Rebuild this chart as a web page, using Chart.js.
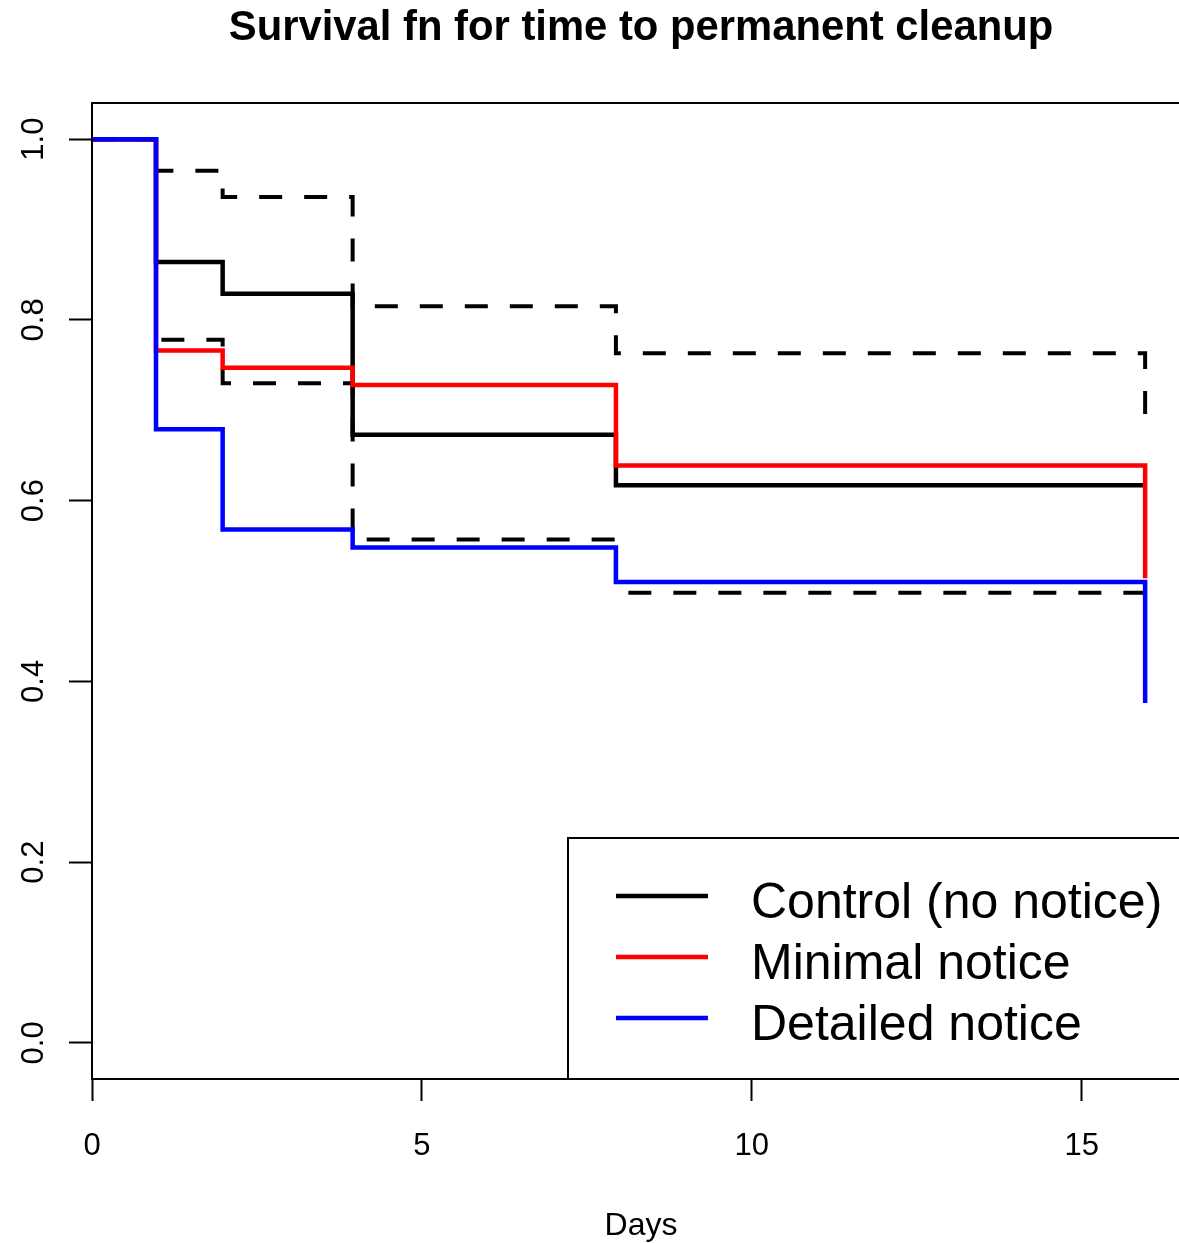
<!DOCTYPE html>
<html>
<head>
<meta charset="utf-8">
<script src="https://cdn.jsdelivr.net/npm/chart.js@4.4.0/dist/chart.umd.min.js"></script>
<style>
html, body { margin: 0; padding: 0; overflow: hidden; background: #fff; }
#wrap { width: 1192px; height: 1243px; }
</style>
</head>
<body>
<div id="wrap"><canvas id="myChart"></canvas></div>
<script>
// Kaplan-Meier estimates
const days = [0, 0.97, 1.98, 3.95, 7.94, 15.96];
const control = [1.0, 0.864, 0.829, 0.673, 0.617, 0.617];
const minimal = [1.0, 0.766, 0.747, 0.728, 0.639, 0.514];
const detailed = [1.0, 0.679, 0.568, 0.548, 0.510, 0.376];
// confidence band for the control group
const controlUpper = [1.0, 0.965, 0.936, 0.815, 0.763, 0.695];
const controlLower = [1.0, 0.778, 0.730, 0.557, 0.498, 0.498];

const groupNames = ['Control (no notice)', 'Minimal notice', 'Detailed notice'];
const groupColors = ['#000000', '#ff0000', '#0000ff'];

const xTicks = [0, 5, 10, 15];
const yTicks = [0.0, 0.2, 0.4, 0.6, 0.8, 1.0];

const titleText = 'Survival fn for time to permanent cleanup';
const xTitle = 'Days';

const FONT = '"Liberation Sans", Arial, sans-serif';

function pts(ys) {
    return days.map((d, i) => ({x: d, y: ys[i]}));
}

const rPlot = {
    id: 'rPlot',
    afterDraw(chart) {
        const c = chart.ctx;
        const a = chart.chartArea;
        const xs = chart.scales.x;
        const ys = chart.scales.y;
        c.save();

        // plot box
        c.strokeStyle = '#000';
        c.lineWidth = 2;
        c.strokeRect(a.left, a.top, a.right - a.left, a.bottom - a.top);

        // tick labels
        c.fillStyle = '#000';
        c.font = '31px ' + FONT;
        c.textAlign = 'center';
        c.textBaseline = 'alphabetic';
        xs.ticks.forEach(t => {
            c.fillText(String(t.value), xs.getPixelForValue(t.value), a.bottom + 76);
        });
        ys.ticks.forEach(t => {
            c.save();
            c.translate(a.left - 49, ys.getPixelForValue(t.value));
            c.rotate(-Math.PI / 2);
            c.fillText(t.value.toFixed(1), 0, 0);
            c.restore();
        });

        // axis title + main title
        const cx = (a.left + a.right) / 2;
        c.font = '32px ' + FONT;
        c.fillText(xTitle, cx, 1235);
        c.font = 'bold 41.8px ' + FONT;
        c.fillText(titleText, cx, 40);

        // legend, bottom right
        const lx = 568, ly = 838;
        c.lineWidth = 2;
        c.strokeRect(lx, ly, a.right - lx, a.bottom - ly);
        c.font = '50px ' + FONT;
        c.textAlign = 'left';
        groupNames.forEach((name, i) => {
            const y = 896 + i * 61;
            c.strokeStyle = groupColors[i];
            c.lineWidth = 4.5;
            c.beginPath();
            c.moveTo(616, y);
            c.lineTo(708, y);
            c.stroke();
            c.fillText(name, 751, y + 22);
        });
        c.restore();
    }
};

const ctx = document.getElementById('myChart').getContext('2d');

const myChart = new Chart(ctx, {
    type: 'line',
    data: {
        datasets: [
            {label: groupNames[2], data: pts(detailed), borderColor: groupColors[2], borderWidth: 4.5, stepped: true, order: 1},
            {label: groupNames[1], data: pts(minimal), borderColor: groupColors[1], borderWidth: 4.5, stepped: true, order: 2},
            {label: groupNames[0], data: pts(control), borderColor: groupColors[0], borderWidth: 4.5, stepped: true, order: 3},
            {label: 'upper', data: pts(controlUpper), borderColor: '#000', borderWidth: 4, borderDash: [23, 22], stepped: true, order: 4},
            {label: 'lower', data: pts(controlLower), borderColor: '#000', borderWidth: 4, borderDash: [23, 22], stepped: true, order: 4}
        ]
    },
    options: {
        responsive: true,
        maintainAspectRatio: false,
        animation: false,
        events: [],
        elements: {point: {radius: 0}, line: {tension: 0, fill: false}},
        layout: {padding: {top: 103, right: 2, left: 0, bottom: 0}},
        plugins: {
            legend: {display: false},
            title: {display: false},
            tooltip: {enabled: false}
        },
        scales: {
            x: {
                type: 'linear',
                min: 0,
                max: 16.64,
                afterBuildTicks: s => { s.ticks = xTicks.map(v => ({value: v})); },
                afterFit: s => { s.height = 164; },
                ticks: {display: false},
                border: {display: false},
                grid: {drawOnChartArea: false, drawTicks: true, tickLength: 22, tickWidth: 2, tickColor: '#000'}
            },
            y: {
                type: 'linear',
                min: -0.04,
                max: 1.04,
                afterBuildTicks: s => { s.ticks = yTicks.map(v => ({value: v})); },
                afterFit: s => { s.width = 92; },
                ticks: {display: false},
                border: {display: false},
                grid: {drawOnChartArea: false, drawTicks: true, tickLength: 23, tickWidth: 2, tickColor: '#000'}
            }
        }
    },
    plugins: [rPlot]
});
</script>
</body>
</html>
